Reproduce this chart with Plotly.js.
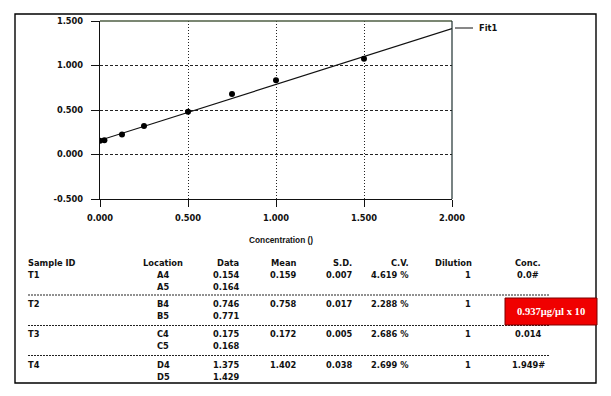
<!DOCTYPE html>
<html>
<head>
<meta charset="utf-8">
<script src="https://cdn.plot.ly/plotly-3.0.1.min.js"></script>
<style>html,body{margin:0;padding:0;background:#fff;}#chart{width:611px;height:396px;}</style>
</head>
<body>
<div id="chart"></div>
<script>
// ---- data ----
const concX = [0, 0.025, 0.125, 0.25, 0.5, 0.75, 1.0, 1.5];
const absY = [0.155, 0.16, 0.225, 0.32, 0.48, 0.68, 0.835, 1.075];
const fitX = [0, 2];
const fitY = [0.16, 1.415];
const fitName = 'Fit1';
const xTickVals = [0, 0.5, 1, 1.5, 2];
const xTickText = ['0.000', '0.500', '1.000', '1.500', '2.000'];
const yTickVals = [-0.5, 0, 0.5, 1, 1.5];
const yTickText = ['-0.500', '0.000', '0.500', '1.000', '1.500'];
const xTitle = 'Concentration ()';

const headers = ['Sample ID', 'Location', 'Data', 'Mean', 'S.D.', 'C.V.', 'Dilution', 'Conc.'];
const sampleIds = ['T1', 'T2', 'T3', 'T4'];
const locations = [['A4', 'A5'], ['B4', 'B5'], ['C4', 'C5'], ['D4', 'D5']];
const dataVals = [['0.154', '0.164'], ['0.746', '0.771'], ['0.175', '0.168'], ['1.375', '1.429']];
const means = ['0.159', '0.758', '0.172', '1.402'];
const sds = ['0.007', '0.017', '0.005', '0.038'];
const cvs = ['4.619 %', '2.288 %', '2.686 %', '2.699 %'];
const dilutions = ['1', '1', '1', '1'];
const concs = ['0.0#', '', '0.014', '1.949#'];
const noteText = '0.937μg/μl x 10';

// ---- layout geometry (pixels) ----
const M = {l: 100, r: 159, t: 21, b: 197};
const W = 611, H = 396;
const PW = W - M.l - M.r, PH = H - M.t - M.b;
const fx = p => (p - M.l) / PW;
const fy = p => (H - M.b - p) / PH;

const tickFont = {family: 'DejaVu Sans', size: 8.3, weight: 'bold', color: '#111'};
const tabFont = {family: 'DejaVu Sans', size: 8.3, weight: 'bold', color: '#111'};

const annotations = [];
function txt(px, py, text, anchor, font) {
  annotations.push({xref: 'paper', yref: 'paper', x: fx(px), y: fy(py), text: text,
    showarrow: false, xanchor: anchor, yanchor: 'middle', font: font || tabFont,
    borderpad: 0, borderwidth: 0});
}

// table columns
const col = {id: 28, loc: 163, data: 239, mean: 296, sd: 352, cv: 409, dil: 472, conc: 528};
const headY = 263;
const rowY = [274.7, 303.7, 334, 364.5];
const subDy = 12.4;

txt(col.id, headY, headers[0], 'left');
txt(col.loc, headY, headers[1], 'center');
txt(col.data, headY, headers[2], 'right');
txt(col.mean, headY, headers[3], 'right');
txt(col.sd, headY, headers[4], 'right');
txt(col.cv, headY, headers[5], 'right');
txt(col.dil, headY, headers[6], 'right');
txt(col.conc, headY, headers[7], 'center');

for (let i = 0; i < sampleIds.length; i++) {
  const y = rowY[i];
  txt(col.id, y, sampleIds[i], 'left');
  txt(col.loc, y, locations[i][0], 'center');
  txt(col.loc, y + subDy, locations[i][1], 'center');
  txt(col.data, y, dataVals[i][0], 'right');
  txt(col.data, y + subDy, dataVals[i][1], 'right');
  txt(col.mean, y, means[i], 'right');
  txt(col.sd, y, sds[i], 'right');
  txt(col.cv, y, cvs[i], 'right');
  txt(col.dil - 1, y, dilutions[i], 'right');
  if (concs[i]) txt(col.conc, y, concs[i], 'center');
}

// axis title + legend label
txt(281, 240, xTitle, 'center', {family: 'Liberation Sans', size: 8.3, weight: 'bold', color: '#111'});
txt(479, 28, fitName, 'left', {family: 'DejaVu Sans', size: 8.3, weight: 'bold', color: '#111'});
// red note
txt(551, 311.5, noteText, 'center', {family: 'Liberation Serif', size: 10.6, weight: 'bold', color: '#fff'});

const shapes = [
  // outer frame
  {type: 'rect', xref: 'paper', yref: 'paper', x0: fx(15), x1: fx(596), y0: fy(14), y1: fy(383),
   line: {color: '#000', width: 1.4}, layer: 'below'},
  // top / right plot edges
  {type: 'line', xref: 'paper', yref: 'paper', x0: 0, x1: 1, y0: 1, y1: 1, line: {color: '#4f5f45', width: 1.3}},
  {type: 'line', xref: 'paper', yref: 'paper', x0: 1, x1: 1, y0: 0, y1: 1, line: {color: '#1f2f2f', width: 1.2}},
  // legend line
  {type: 'line', xref: 'paper', yref: 'paper', x0: fx(455), x1: fx(473), y0: fy(28), y1: fy(28), line: {color: '#111', width: 1}},
];
// table separators
[295, 325.5, 355.5].forEach(py => shapes.push({type: 'line', xref: 'paper', yref: 'paper',
  x0: fx(28), x1: fx(550), y0: fy(py), y1: fy(py), line: {color: '#222', width: 1, dash: '2px,1px'}}));
// red box
shapes.push({type: 'rect', xref: 'paper', yref: 'paper', x0: fx(505), x1: fx(597), y0: fy(298), y1: fy(325),
  fillcolor: '#f00000', line: {color: '#7a0000', width: 1}});

const traces = [
  {x: fitX, y: fitY, mode: 'lines', name: fitName, line: {color: '#111', width: 1.2}, showlegend: false},
  {x: concX, y: absY, mode: 'markers', name: 'Standards', marker: {color: '#000', size: 6}, showlegend: false}
];

const layout = {
  width: W, height: H,
  margin: M,
  paper_bgcolor: '#fff', plot_bgcolor: '#fff',
  showlegend: false,
  xaxis: {
    range: [0, 2], tickmode: 'array', tickvals: xTickVals, ticktext: xTickText,
    showline: true, linecolor: '#111', linewidth: 1.2,
    ticks: 'outside', ticklen: 7, tickcolor: '#111', tickwidth: 1,
    ticklabelstandoff: 4,
    showgrid: true, gridcolor: '#222', gridwidth: 1, griddash: '1px,2px',
    zeroline: false, tickfont: tickFont, fixedrange: true
  },
  yaxis: {
    range: [-0.5, 1.5], tickmode: 'array', tickvals: yTickVals, ticktext: yTickText,
    showline: true, linecolor: '#111', linewidth: 1.2,
    ticks: 'outside', ticklen: 8, tickcolor: '#111', tickwidth: 1,
    ticklabelstandoff: 6,
    showgrid: true, gridcolor: '#222', gridwidth: 1, griddash: '3px,2px',
    zeroline: false, tickfont: tickFont, fixedrange: true
  },
  shapes: shapes,
  annotations: annotations
};

Plotly.newPlot('chart', traces, layout, {displayModeBar: false, staticPlot: true});
</script>
</body>
</html>
